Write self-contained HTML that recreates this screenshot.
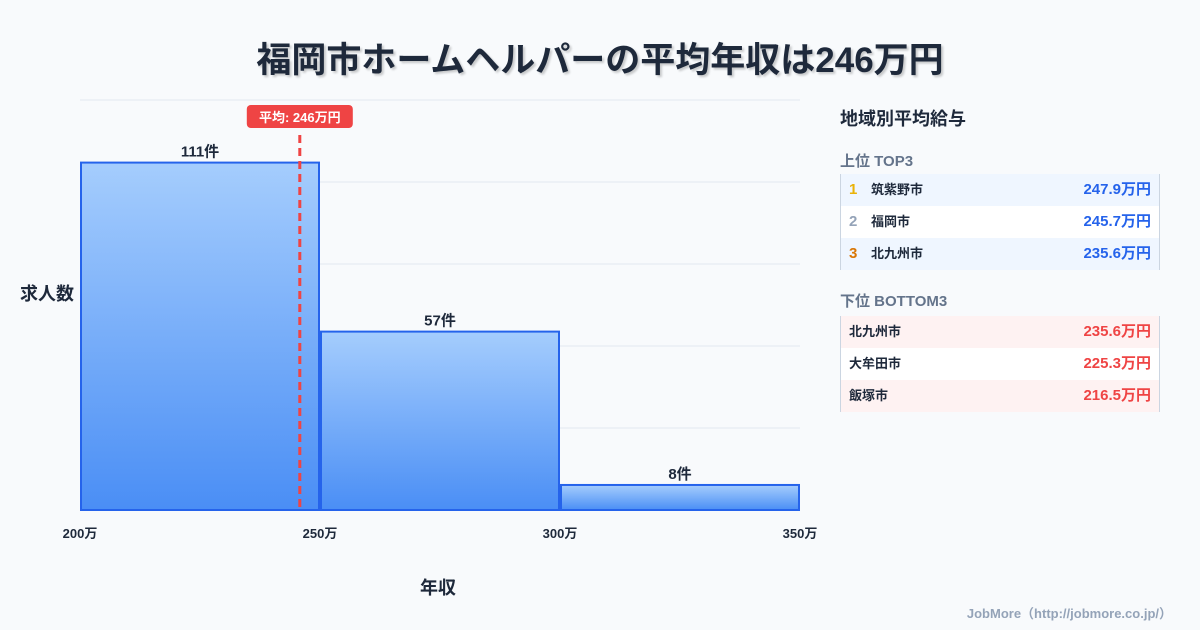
<!DOCTYPE html>
<html><head><meta charset="utf-8"><style>
body{margin:0;width:1200px;height:630px;background:#f8fafc;font-family:"Liberation Sans","Noto Sans CJK JP",sans-serif;overflow:hidden;position:relative;color:#1e293b}
.t{position:absolute;white-space:nowrap}
.row{position:absolute;left:840px;width:320px;height:32px;border-left:1px solid #cbd5e1;border-right:1px solid #cbd5e1;box-sizing:border-box;font-size:13px;font-weight:bold}
.row span{position:absolute;top:0;line-height:32px}
.v{right:8px;font-size:15px}
.n{font-size:15px;left:8px}
</style></head><body>
<div class="t" style="left:0;width:1200px;text-align:center;top:32px;font-size:35px;font-weight:bold;color:#1e293b;text-shadow:2px 2px 2px rgba(0,0,0,0.2)">福岡市ホームヘルパーの平均年収は246万円</div>
<svg id="c" width="1200" height="630" style="position:absolute;left:0;top:0">
<defs><linearGradient id="g" x1="0" y1="0" x2="0" y2="1"><stop offset="0" stop-color="#a5cdfd"/><stop offset="1" stop-color="#4a8ef5"/></linearGradient></defs>
</svg>
<div class="t" style="left:20px;top:280px;font-size:18px;font-weight:bold">求人数</div>
<div class="t" style="left:420px;top:574px;font-size:18px;font-weight:bold">年収</div>
<div class="t" style="left:840px;top:105px;font-size:18px;font-weight:bold">地域別平均給与</div>
<div class="t" style="left:840px;top:150px;font-size:15px;font-weight:bold;color:#64748b">上位 TOP3</div>
<div class="row" style="top:174px;background:#eff6ff"><span class="n" style="color:#eab308">1</span><span style="left:30px">筑紫野市</span><span class="v" style="color:#2563eb">247.9万円</span></div>
<div class="row" style="top:206px;background:#fff"><span class="n" style="color:#94a3b8">2</span><span style="left:30px">福岡市</span><span class="v" style="color:#2563eb">245.7万円</span></div>
<div class="row" style="top:238px;background:#eff6ff"><span class="n" style="color:#d97706">3</span><span style="left:30px">北九州市</span><span class="v" style="color:#2563eb">235.6万円</span></div>
<div class="t" style="left:840px;top:290px;font-size:15px;font-weight:bold;color:#64748b">下位 BOTTOM3</div>
<div class="row" style="top:316px;background:#fef2f2"><span style="left:8px">北九州市</span><span class="v" style="color:#ef4444">235.6万円</span></div>
<div class="row" style="top:348px;background:#fff"><span style="left:8px">大牟田市</span><span class="v" style="color:#ef4444">225.3万円</span></div>
<div class="row" style="top:380px;background:#fef2f2"><span style="left:8px">飯塚市</span><span class="v" style="color:#ef4444">216.5万円</span></div>
<div class="t" style="right:28px;top:603px;font-size:13px;font-weight:bold;color:#94a3b8">JobMore（http://jobmore.co.jp/）</div>
<script>
const binStarts=[200,250,300];
const binEnds=[250,300,350];
const counts=[111,57,8];
const xTicks=[200,250,300,350];
const meanValue=246;
const meanLabel="平均: 246万円";
const svg=document.getElementById('c');const NS='http://www.w3.org/2000/svg';
const X=v=>80+(v-200)*4.8, Y=v=>510-v*410/131;
function mk(t,a,txt){const e=document.createElementNS(NS,t);for(const k in a)e.setAttribute(k,a[k]);if(txt!==undefined)e.textContent=txt;svg.appendChild(e);return e;}
for(let i=0;i<6;i++){const l=mk('line',{x1:80,x2:800,y1:100+i*82,y2:100+i*82,stroke:'#e2e8f0','stroke-width':1});

}
counts.forEach((c,i)=>{const r=mk('rect',{x:X(binStarts[i])+1,y:Y(c),width:X(binEnds[i])-X(binStarts[i])-2,height:510-Y(c),fill:'url(#g)',stroke:'#2563eb','stroke-width':2});


const t=mk('text',{x:(X(binStarts[i])+X(binEnds[i]))/2,y:Y(c)-6,'text-anchor':'middle','font-size':15,'font-weight':'bold',fill:'#1e293b'},c+'件');

});
xTicks.forEach(v=>{const t=mk('text',{x:X(v),y:538,'text-anchor':'middle','font-size':13,'font-weight':'bold',fill:'#1e293b'},v+'万');

});
const mx=X(meanValue)-1;
const ml=mk('line',{x1:mx,x2:mx,y1:135,y2:510,stroke:'#ef4444','stroke-width':3,'stroke-dasharray':'8,5'});


const mb=mk('rect',{x:mx-53,y:105,width:106,height:23,rx:4,fill:'#ef4444'});


const mt=mk('text',{x:mx,y:122,'text-anchor':'middle','font-size':13,'font-weight':'bold',fill:'#fff'},meanLabel);


</script>
</body></html>
